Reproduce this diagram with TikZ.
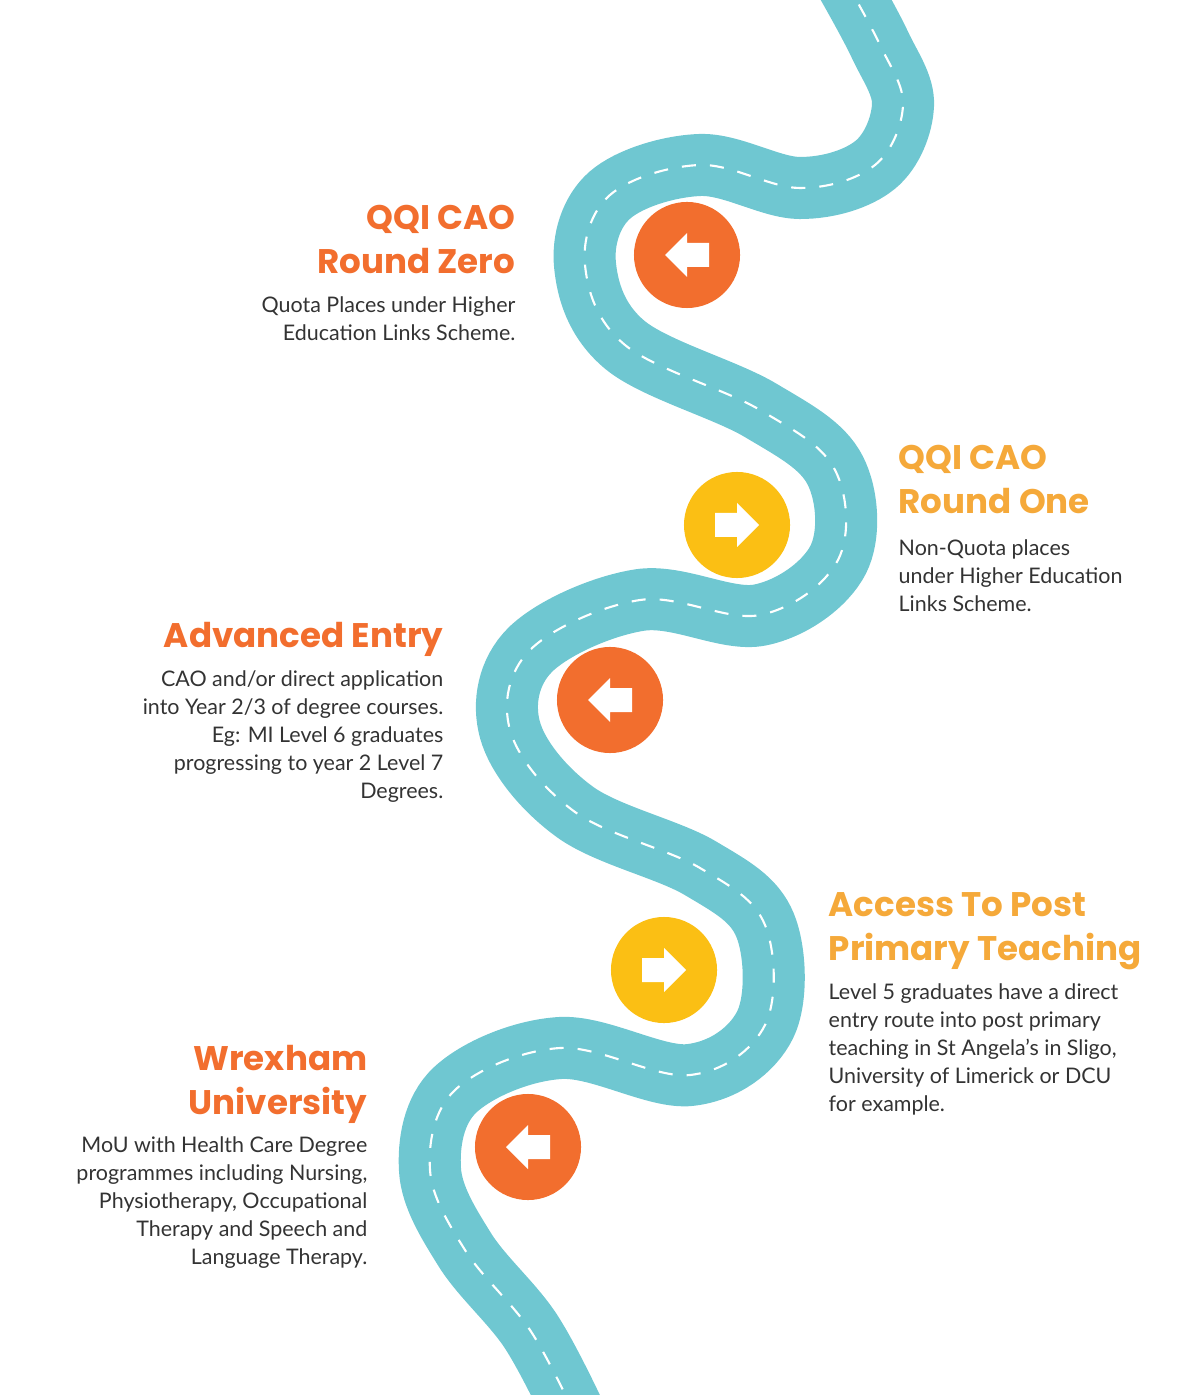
\documentclass[tikz,border=0pt]{standalone}
\usepackage{fontspec}
\setmainfont{Lato}
\newfontfamily\headfont{Poppins}
\definecolor{roadteal}{HTML}{6FC7D1}
\definecolor{stoporange}{HTML}{F26E2E}
\definecolor{stopyellow}{HTML}{FBBF14}
\definecolor{headyellow}{HTML}{F5A93A}
\tikzset{
  x=0.01cm, y=-0.01cm,
  stop/.style={circle, minimum size=1.06cm, inner sep=0pt},
  head/.style={font=\headfont\bfseries\fontsize{9.7}{12.4}\selectfont, inner sep=0pt},
  blurb/.style={font=\fontsize{6.1}{7.95}\selectfont, text=black!80, inner sep=0pt},
  arrowL/.pic={\fill[white] (-22,0) -- (0,-22) -- (0,-12) -- (22,-12) -- (22,12) -- (0,12) -- (0,22) -- cycle;},
  arrowR/.pic={\fill[white] (22,0) -- (0,-22) -- (0,-12) -- (-22,-12) -- (-22,12) -- (0,12) -- (0,22) -- cycle;}
}
\begin{document}
\begin{tikzpicture}
\useasboundingbox (0,0) rectangle (1200,1395);
% road
\def\roadpath{plot[smooth, tension=0.6] coordinates {(845,-20) (880,45) (903,105) (875,165) (800,188) (700,165) (610,195) (585,265) (625,345) (760,410) (835,470) (838,560) (760,615) (640,600) (530,650) (510,730) (575,812) (700,868) (765,925) (765,1025) (690,1075) (560,1048) (455,1090) (430,1170) (465,1250) (530,1330) (575,1415)}}
\draw[roadteal, line width=0.62cm] \roadpath;
\draw[white, line width=0.6pt, dash pattern=on 4pt off 4pt] \roadpath;
% stops
\node[stop, fill=stoporange] (s1) at (687,255) {};
\node[stop, fill=stopyellow] (s2) at (737,525) {};
\node[stop, fill=stoporange] (s3) at (610,700) {};
\node[stop, fill=stopyellow] (s4) at (664,970) {};
\node[stop, fill=stoporange] (s5) at (528,1147) {};
\pic at (s1) {arrowL};
\pic at (s2) {arrowR};
\pic at (s3) {arrowL};
\pic at (s4) {arrowR};
\pic at (s5) {arrowL};
% texts
\node[head, text=stoporange, align=right, anchor=north east] (h1) at (516,205) {QQI CAO\\Round Zero};
\node[blurb, align=right, anchor=north east] (b1) at (516,296) {Quota Places under Higher\\Education Links Scheme.};
\node[head, text=headyellow, align=left, anchor=north west] (h2) at (898,445) {QQI CAO\\Round One};
\node[blurb, align=left, anchor=north west] (b2) at (898,539) {Non-Quota places\\under Higher Education\\Links Scheme.};
\node[head, text=stoporange, align=right, anchor=north east] (h3) at (444,622) {Advanced Entry};
\node[blurb, align=right, anchor=north east] (b3) at (444,670) {CAO and/or direct application\\into Year 2/3 of degree courses.\\Eg: MI Level 6 graduates\\progressing to year 2 Level 7\\Degrees.};
\node[head, text=headyellow, align=left, anchor=north west] (h4) at (828,892) {Access To Post\\Primary Teaching};
\node[blurb, align=left, anchor=north west] (b4) at (828,983) {Level 5 graduates have a direct\\entry route into post primary\\teaching in St Angela’s in Sligo,\\University of Limerick or DCU\\for example.};
\node[head, text=stoporange, align=right, anchor=north east] (h5) at (368,1045) {Wrexham\\University};
\node[blurb, align=right, anchor=north east] (b5) at (368,1136) {MoU with Health Care Degree\\programmes including Nursing,\\Physiotherapy, Occupational\\Therapy and Speech and\\Language Therapy.};
\end{tikzpicture}
\end{document}
